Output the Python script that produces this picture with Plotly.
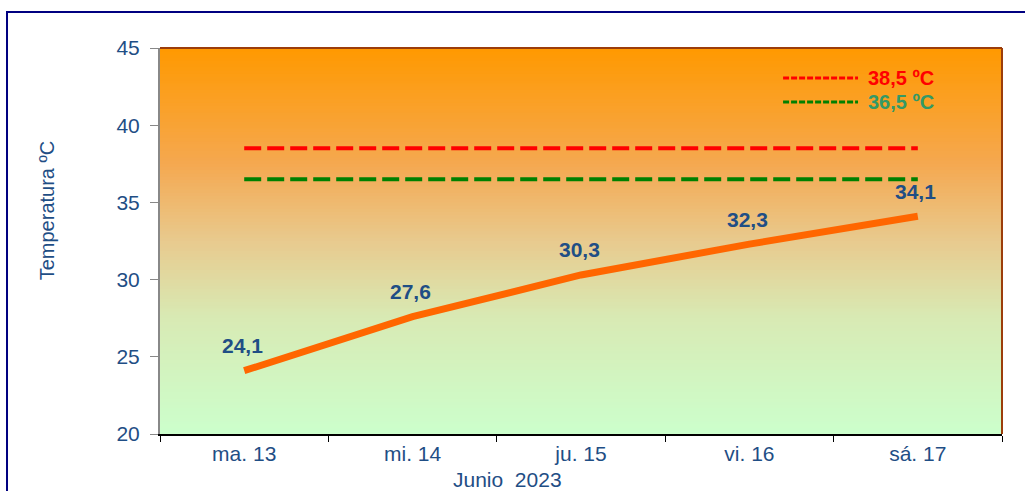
import plotly.graph_objects as go

categories = ["ma. 13", "mi. 14", "ju. 15", "vi. 16", "sá. 17"]
temps = [24.1, 27.6, 30.3, 32.3, 34.1]
temp_labels = ["24,1", "27,6", "30,3", "32,3", "34,1"]
limit_red = [38.5, 38.5, 38.5, 38.5, 38.5]
limit_green = [36.5, 36.5, 36.5, 36.5, 36.5]
y_ticks = [20, 25, 30, 35, 40, 45]

FONT = "Liberation Sans, Arial, sans-serif"
BLUE = "#1F4E85"

fig = go.Figure()
fig.add_trace(go.Scatter(x=categories, y=limit_red, mode="lines",
                         line=dict(color="#FF0000", width=4, dash="17px,6px"),
                         hoverinfo="skip", showlegend=False))
fig.add_trace(go.Scatter(x=categories, y=limit_green, mode="lines",
                         line=dict(color="#008000", width=4, dash="17px,6px"),
                         hoverinfo="skip", showlegend=False))
fig.add_trace(go.Scatter(x=categories, y=temps, mode="lines",
                         line=dict(color="#FF6600", width=7),
                         showlegend=False))

# gradient background strips
stops = [(0.0, (204, 255, 204)), (0.3, (216, 234, 180)), (0.5, (232, 202, 142)),
         (0.7, (245, 168, 80)), (1.0, (255, 153, 0))]

def col(t):
    for i in range(len(stops) - 1):
        a, ca = stops[i]
        b, cb = stops[i + 1]
        if a <= t <= b:
            f = (t - a) / (b - a)
            return "rgb(%d,%d,%d)" % tuple(round(ca[k] + (cb[k] - ca[k]) * f) for k in range(3))
    return "rgb(255,153,0)"

shapes = []
N = 120
for i in range(N):
    t = (i + 0.5) / N
    shapes.append(dict(type="rect", xref="x domain", yref="y domain",
                       x0=0, x1=1, y0=i / N, y1=(i + 1) / N + 0.002,
                       fillcolor=col(t), line=dict(width=0), layer="below"))
# top and right border of plot area
shapes.append(dict(type="line", xref="paper", yref="paper", x0=0, x1=1, y0=1, y1=1,
                   line=dict(color="#9C3D0A", width=2)))
shapes.append(dict(type="line", xref="paper", yref="paper", x0=1, x1=1, y0=0, y1=1,
                   line=dict(color="#9C3D0A", width=2)))
# outer frame
shapes.append(dict(type="rect", xref="paper", yref="paper", x0=-0.1817, x1=1.2,
                   y0=-0.4, y1=1.093, line=dict(color="#000080", width=2),
                   fillcolor="rgba(0,0,0,0)"))
# legend line samples
shapes.append(dict(type="line", xref="paper", yref="paper", x0=0.740, x1=0.829,
                   y0=0.922, y1=0.922, line=dict(color="#FF0000", width=3, dash="6px,2px")))
shapes.append(dict(type="line", xref="paper", yref="paper", x0=0.740, x1=0.829,
                   y0=0.860, y1=0.860, line=dict(color="#008000", width=3, dash="6px,2px")))

annotations = [
    dict(text="38,5 ºC", xref="paper", yref="paper", x=0.838, y=0.922, xanchor="left",
         yanchor="middle", showarrow=False,
         font=dict(family=FONT, size=20, color="#FF0000", weight="bold")),
    dict(text="36,5 ºC", xref="paper", yref="paper", x=0.838, y=0.860, xanchor="left",
         yanchor="middle", showarrow=False,
         font=dict(family=FONT, size=20, color="#339966", weight="bold")),
    dict(text="Temperatura ºC", xref="paper", yref="paper", x=-0.134, y=0.58,
         xanchor="center", yanchor="middle", textangle=-90, showarrow=False,
         font=dict(family=FONT, size=20, color=BLUE)),
    dict(text="Junio  2023", xref="paper", yref="paper", x=0.413, y=-0.119,
         xanchor="center", yanchor="middle", showarrow=False,
         font=dict(family=FONT, size=21, color=BLUE)),
]
for c, v, lab in zip(categories, temps, temp_labels):
    annotations.append(dict(text=lab, x=c, y=v, xref="x", yref="y", showarrow=False,
                            yshift=25, xshift=-2, xanchor="center", yanchor="middle",
                            font=dict(family=FONT, size=21, color=BLUE, weight="bold")))

fig.update_layout(
    width=1025, height=491,
    margin=dict(l=160, r=23, t=48, b=57),
    paper_bgcolor="white", plot_bgcolor="rgba(0,0,0,0)",
    shapes=shapes, annotations=annotations,
    font=dict(family=FONT, color=BLUE),
    xaxis=dict(type="category", tickson="boundaries", ticks="outside", ticklen=6,
               tickcolor="black", showline=True, linecolor="black", linewidth=2,
               showgrid=False, zeroline=False, range=[-0.5, 4.5],
               tickfont=dict(family=FONT, size=21, color=BLUE)),
    yaxis=dict(range=[20, 45], tickvals=y_ticks, ticks="outside", ticklen=8,
               tickcolor="#888888", showline=True, linecolor="#888888", linewidth=2,
               showgrid=False, zeroline=False, ticklabelstandoff=6,
               tickfont=dict(family=FONT, size=21, color=BLUE)),
)

fig.write_html("out.html", config={"displayModeBar": False},
               post_script="document.body.style.margin='0';")
